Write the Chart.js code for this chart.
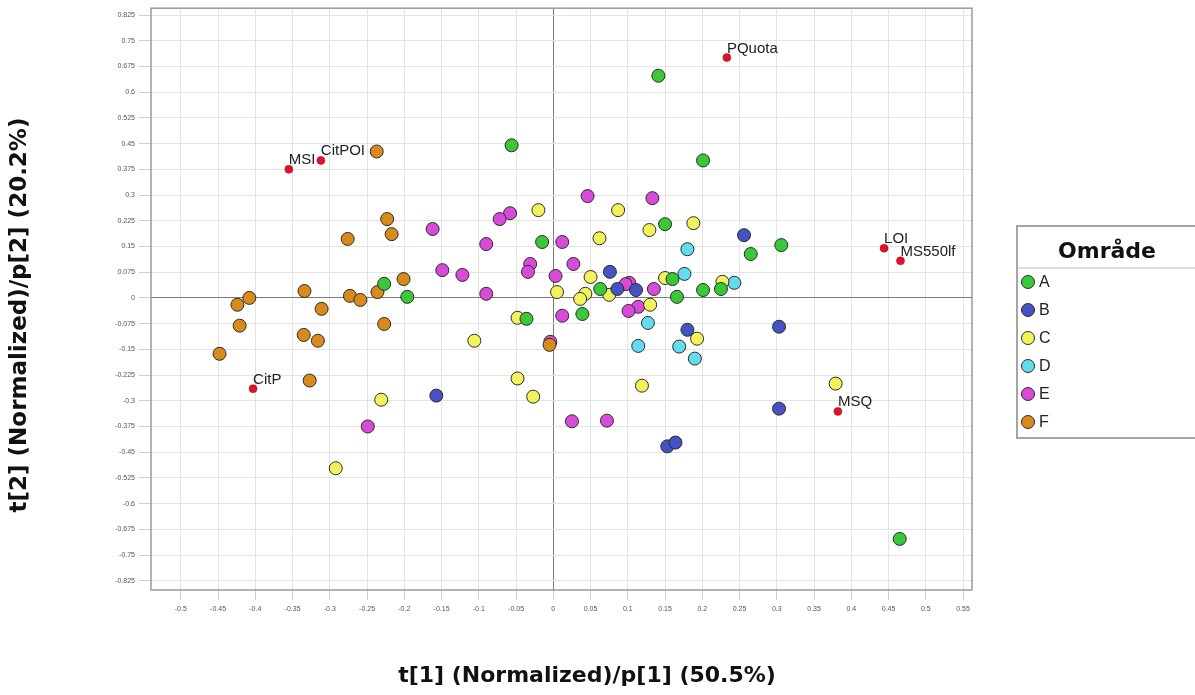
<!DOCTYPE html>
<html>
<head>
<meta charset="utf-8">
<title>Score plot</title>
<script src="https://cdn.jsdelivr.net/npm/chart.js@4.4.1/dist/chart.umd.min.js"></script>
<style>
    html, body { margin: 0; padding: 0; background: #fff; }
</style>
</head>
<body>
<canvas id="scoreChart" width="1195" height="695"></canvas>
<script>
// Scores per area (t[1], t[2])
const areaA = [[0.141, 0.648], [-0.056, 0.445], [0.201, 0.401], [0.150, 0.215], [-0.015, 0.163],
    [0.306, 0.154], [0.265, 0.128], [0.160, 0.055], [-0.227, 0.041], [0.063, 0.026], [0.225, 0.026],
    [0.201, 0.023], [0.166, 0.003], [-0.196, 0.003], [0.039, -0.047], [-0.036, -0.061], [0.465, -0.703]];
const areaB = [[0.256, 0.183], [0.076, 0.076], [0.086, 0.026], [0.111, 0.023], [0.180, -0.093],
    [0.303, -0.084], [-0.157, -0.285], [0.303, -0.323], [0.153, -0.433], [0.164, -0.422]];
const areaC = [[-0.020, 0.256], [0.087, 0.256], [0.188, 0.218], [0.129, 0.198], [0.062, 0.174],
    [0.050, 0.061], [0.150, 0.058], [0.227, 0.047], [0.075, 0.009], [0.043, 0.012], [0.036, -0.003],
    [0.005, 0.017], [0.130, -0.020], [-0.048, -0.058], [0.193, -0.119], [-0.106, -0.125], [-0.048, -0.235],
    [0.119, -0.256], [-0.027, -0.288], [-0.231, -0.297], [0.379, -0.250], [-0.292, -0.497]];
const areaD = [[0.180, 0.142], [0.176, 0.070], [0.243, 0.044], [0.127, -0.073], [0.114, -0.140],
    [0.169, -0.142], [0.190, -0.177]];
const areaE = [[0.046, 0.297], [0.133, 0.291], [-0.058, 0.247], [-0.072, 0.230], [-0.162, 0.201],
    [-0.090, 0.157], [0.012, 0.163], [0.027, 0.099], [-0.031, 0.099], [-0.034, 0.076], [-0.149, 0.081],
    [-0.122, 0.067], [0.003, 0.064], [0.102, 0.044], [0.097, 0.040], [0.135, 0.026], [-0.090, 0.012],
    [0.114, -0.026], [0.101, -0.038], [0.012, -0.052], [0.025, -0.360], [0.072, -0.358], [-0.249, -0.375]];
const areaF = [[-0.237, 0.427], [-0.223, 0.230], [-0.217, 0.186], [-0.276, 0.172], [-0.201, 0.055],
    [-0.236, 0.017], [-0.273, 0.006], [-0.259, -0.006], [-0.334, 0.020], [-0.408, 0.000], [-0.424, -0.020],
    [-0.311, -0.032], [-0.227, -0.076], [-0.421, -0.081], [-0.335, -0.108], [-0.316, -0.125],
    [-0.448, -0.163], [-0.327, -0.241], [-0.005, -0.137]];
// E point drawn over the hidden F point near the origin
const areaE2 = [[-0.004, -0.128]];

// Variable loadings (red dots with names)
const loadingNames = ['PQuota', 'MSI', 'CitPOI', 'CitP', 'LOI', 'MS550lf', 'MSQ'];
const loadingX = [0.233, -0.355, -0.312, -0.403, 0.444, 0.466, 0.382];
const loadingY = [0.701, 0.375, 0.401, -0.265, 0.145, 0.108, -0.331];

const areaNames = ['A', 'B', 'C', 'D', 'E', 'F'];
const areaColors = ['#38c838', '#4652c4', '#f2f25a', '#62dcef', '#d84ad8', '#d88a1c'];

const xTicks = [-0.5, -0.45, -0.4, -0.35, -0.3, -0.25, -0.2, -0.15, -0.1, -0.05, 0,
    0.05, 0.1, 0.15, 0.2, 0.25, 0.3, 0.35, 0.4, 0.45, 0.5, 0.55];
const xTickLabels = ['-0.5', '-0.45', '-0.4', '-0.35', '-0.3', '-0.25', '-0.2', '-0.15', '-0.1', '-0.05', '0',
    '0.05', '0.1', '0.15', '0.2', '0.25', '0.3', '0.35', '0.4', '0.45', '0.5', '0.55'];
const yTicks = [0.825, 0.75, 0.675, 0.6, 0.525, 0.45, 0.375, 0.3, 0.225, 0.15, 0.075, 0,
    -0.075, -0.15, -0.225, -0.3, -0.375, -0.45, -0.525, -0.6, -0.675, -0.75, -0.825];
const yTickLabels = ['0.825', '0.75', '0.675', '0.6', '0.525', '0.45', '0.375', '0.3', '0.225', '0.15', '0.075', '0',
    '-0.075', '-0.15', '-0.225', '-0.3', '-0.375', '-0.45', '-0.525', '-0.6', '-0.675', '-0.75', '-0.825'];

const xTitle = 't[1] (Normalized)/p[1] (50.5%)';
const yTitle = 't[2] (Normalized)/p[2] (20.2%)';
const legendTitle = 'Område';

const sans = '"Liberation Sans", Arial, sans-serif';
const wide = '"DejaVu Sans", Verdana, sans-serif';

function toPoints(pairs) {
    return pairs.map(p => ({ x: p[0], y: p[1] }));
}

const areaData = [areaA, areaB, areaC, areaD, areaE, areaF];
const datasets = areaData.map((pairs, i) => ({
    label: areaNames[i],
    data: toPoints(pairs),
    backgroundColor: areaColors[i],
    borderColor: '#2b2b2b',
    borderWidth: 1,
    pointRadius: 6.5,
    pointHoverRadius: 6.5
}));
datasets.push({
    label: 'E2',
    data: toPoints(areaE2),
    backgroundColor: areaColors[4],
    borderColor: '#2b2b2b',
    borderWidth: 1,
    pointRadius: 6.5,
    pointHoverRadius: 6.5
});
datasets.push({
    label: 'loadings',
    data: loadingX.map((x, i) => ({ x: x, y: loadingY[i] })),
    backgroundColor: '#e3102a',
    borderColor: '#a00818',
    borderWidth: 0.5,
    pointRadius: 4,
    pointHoverRadius: 4
});

// frame round the plot area
const framePlugin = {
    id: 'frame',
    beforeDatasetsDraw(chart) {
        const a = chart.chartArea;
        const ctx = chart.ctx;
        ctx.save();
        ctx.strokeStyle = '#9a9a9a';
        ctx.lineWidth = 1.5;
        ctx.strokeRect(a.left, a.top, a.right - a.left, a.bottom - a.top);
        ctx.restore();
    }
};

// names next to the loading dots
const loadingLabels = {
    id: 'loadingLabels',
    afterDatasetsDraw(chart) {
        const meta = chart.getDatasetMeta(chart.data.datasets.length - 1);
        const ctx = chart.ctx;
        ctx.save();
        ctx.font = '15px ' + sans;
        ctx.fillStyle = '#222';
        ctx.textAlign = 'left';
        ctx.textBaseline = 'alphabetic';
        meta.data.forEach((el, i) => {
            ctx.fillText(loadingNames[i], el.x, el.y - 5);
        });
        ctx.restore();
    }
};

// axis titles
const axisTitles = {
    id: 'axisTitles',
    afterDraw(chart) {
        const ctx = chart.ctx;
        ctx.save();
        ctx.fillStyle = '#111';
        ctx.font = 'bold 22px ' + wide;
        ctx.textAlign = 'center';
        ctx.textBaseline = 'middle';
        ctx.fillText(xTitle, 587, 676);
        ctx.translate(20, 315);
        ctx.rotate(-Math.PI / 2);
        ctx.font = 'bold 23px ' + wide;
        ctx.fillText(yTitle, 0, 0);
        ctx.restore();
    }
};

// legend box on the right
const areaLegend = {
    id: 'areaLegend',
    afterDraw(chart) {
        const ctx = chart.ctx;
        const left = chart.chartArea.right + 45;
        const top = 226;
        ctx.save();
        ctx.strokeStyle = '#888';
        ctx.lineWidth = 1.5;
        ctx.strokeRect(left, top, 200, 212);
        ctx.beginPath();
        ctx.moveTo(left, top + 42);
        ctx.lineTo(left + 200, top + 42);
        ctx.lineWidth = 1;
        ctx.strokeStyle = '#bbb';
        ctx.stroke();
        ctx.fillStyle = '#111';
        ctx.font = 'bold 22px ' + wide;
        ctx.textAlign = 'center';
        ctx.textBaseline = 'middle';
        ctx.fillText(legendTitle, left + 90, top + 26);
        ctx.font = '16px ' + sans;
        ctx.textAlign = 'left';
        areaNames.forEach((name, i) => {
            const y = top + 56 + i * 28;
            ctx.beginPath();
            ctx.arc(left + 11, y, 6.5, 0, Math.PI * 2);
            ctx.fillStyle = chart.data.datasets[i].backgroundColor;
            ctx.fill();
            ctx.lineWidth = 1;
            ctx.strokeStyle = '#2b2b2b';
            ctx.stroke();
            ctx.fillStyle = '#222';
            ctx.fillText(name, left + 22, y + 1);
        });
        ctx.restore();
    }
};

const ctx = document.getElementById('scoreChart').getContext('2d');
new Chart(ctx, {
    type: 'scatter',
    data: { datasets: datasets },
    options: {
        responsive: false,
        animation: false,
        devicePixelRatio: 1,
        layout: { padding: { top: 7, right: 223, left: 0, bottom: 0 } },
        plugins: {
            legend: { display: false },
            tooltip: { enabled: false }
        },
        scales: {
            x: {
                type: 'linear',
                min: -0.54,
                max: 0.562,
                afterBuildTicks: scale => { scale.ticks = xTicks.map(v => ({ value: v })); },
                afterFit: scale => { scale.height = 105; },
                ticks: {
                    callback: (v, i) => xTickLabels[i],
                    autoSkip: false,
                    maxRotation: 0,
                    padding: 5,
                    color: '#555',
                    font: { size: 7, family: sans }
                },
                grid: {
                    color: c => (c.tick && c.tick.value === 0) ? '#7a7a7a' : '#e4e4e4',
                    tickColor: '#cfcfcf',
                    tickLength: 10
                },
                border: { display: false }
            },
            y: {
                type: 'linear',
                min: -0.852,
                max: 0.845,
                afterBuildTicks: scale => { scale.ticks = yTicks.map(v => ({ value: v })); },
                afterFit: scale => { scale.width = 151; },
                ticks: {
                    callback: (v, i) => yTickLabels[i],
                    autoSkip: false,
                    padding: 4,
                    color: '#555',
                    font: { size: 7, family: sans }
                },
                grid: {
                    color: c => (c.tick && c.tick.value === 0) ? '#7a7a7a' : '#e4e4e4',
                    tickColor: '#cfcfcf',
                    tickLength: 12
                },
                border: { display: false }
            }
        }
    },
    plugins: [framePlugin, loadingLabels, axisTitles, areaLegend]
});
</script>
</body>
</html>
